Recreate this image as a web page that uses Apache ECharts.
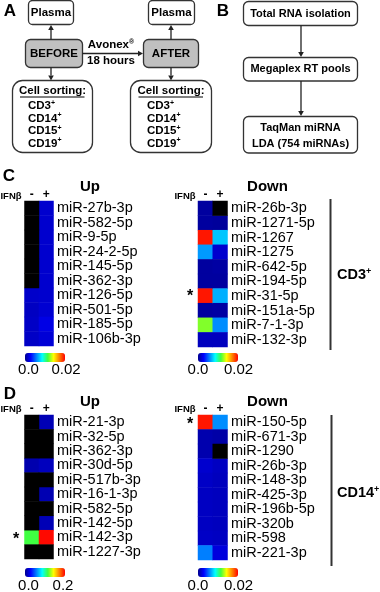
<!DOCTYPE html>
<html><head><meta charset="utf-8">
<script src="https://cdn.jsdelivr.net/npm/echarts@6/dist/echarts.min.js"></script>
<style>html,body{margin:0;padding:0;background:#fff}#c{width:380px;height:592px}</style>
</head><body><div id="c"></div>
<script>
// ---------------- data ----------------
const ifnCols = ['-', '+'];

const cUpGenes = ['miR-27b-3p','miR-582-5p','miR-9-5p','miR-24-2-5p','miR-145-5p','miR-362-3p','miR-126-5p','miR-501-5p','miR-185-5p','miR-106b-3p'];
const cUpMinus = [null,null,null,null,null,null,0.0015,0.0013,0.0014,0.0014];
const cUpPlus  = [0.0016,0.0016,0.0016,0.0016,0.0016,0.0016,0.0016,0.0017,0.0022,0.0018];

const cDownGenes = ['miR-26b-3p','miR-1271-5p','miR-1267','miR-1275','miR-642-5p','miR-194-5p','miR-31-5p','miR-151a-5p','miR-7-1-3p','miR-132-3p'];
const cDownMinus = [0.0004,0.0004,0.0195,0.0063,0.0004,0.0004,0.0195,0.0004,0.0124,0.0012];
const cDownPlus  = [null,0.0003,0.0073,0.0016,0.0005,0.0004,0.0068,0.0005,0.0060,0.0012];

const dUpGenes = ['miR-21-3p','miR-32-5p','miR-362-3p','miR-30d-5p','miR-517b-3p','miR-16-1-3p','miR-582-5p','miR-142-5p','miR-142-3p','miR-1227-3p'];
const dUpMinus = [null,null,null,0.008,null,null,null,null,0.114,null];
const dUpPlus  = [0.010,null,null,0.012,null,0.009,null,0.010,0.198,null];

const dDownGenes = ['miR-150-5p','miR-671-3p','miR-1290','miR-26b-3p','miR-148-3p','miR-425-3p','miR-196b-5p','miR-320b','miR-598','miR-221-3p'];
const dDownMinus = [0.0195,0.0008,0.0008,0.0016,0.0014,0.0013,0.0013,0.0013,0.0014,0.0057];
const dDownPlus  = [0.0060,0.0006,null,0.0013,0.0012,0.0012,0.0012,0.0012,0.0013,0.0020];

const scaleSmall = [0, 0.02];
const scaleLarge = [0, 0.2];
const cbTicksSmall = ['0.0', '0.02'];
const cbTicksLarge = ['0.0', '0.2'];

// ---------------- layout ----------------
const FF = "'Liberation Sans', Arial, Helvetica, sans-serif";
const jet = ['#00008f','#0000ff','#0080ff','#00ffff','#40ff40','#ffff00','#ff8000','#ff0000'];

const panels = [
  {genes: cUpGenes, minus: cUpMinus, plus: cUpPlus, scale: scaleSmall, ticks: cbTicksSmall,
   grid: {left: 24.5, top: 201, width: 29, height: 145}, cb: {left: 25, top: 353, tx: [28.5, 66], ty: 370}},
  {genes: cDownGenes, minus: cDownMinus, plus: cDownPlus, scale: scaleSmall, ticks: cbTicksSmall,
   grid: {left: 198, top: 201, width: 29.5, height: 146}, cb: {left: 198, top: 353, tx: [198, 238.5], ty: 370}},
  {genes: dUpGenes, minus: dUpMinus, plus: dUpPlus, scale: scaleLarge, ticks: cbTicksLarge,
   grid: {left: 24.5, top: 415, width: 29, height: 144}, cb: {left: 25, top: 568, tx: [28.5, 63], ty: 586}},
  {genes: dDownGenes, minus: dDownMinus, plus: dDownPlus, scale: scaleSmall, ticks: cbTicksSmall,
   grid: {left: 198, top: 415, width: 29.5, height: 145}, cb: {left: 198, top: 568, tx: [198, 238.5], ty: 586}}
];

const grids = [], xAxes = [], yAxes = [], series = [], visualMaps = [], graphics = [];

panels.forEach((p, k) => {
  grids.push(Object.assign({containLabel: false}, p.grid));
  xAxes.push({type: 'category', gridIndex: k, data: ifnCols, position: 'top',
    axisLine: {show: false}, axisTick: {show: false}, splitLine: {show: false},
    axisLabel: {interval: 0, fontSize: 12, fontWeight: 'bold', color: '#000', fontFamily: FF, margin: 0}});
  yAxes.push({type: 'category', gridIndex: k, data: p.genes, inverse: true, position: 'right',
    axisLine: {show: false}, axisTick: {show: false}, splitLine: {show: false},
    axisLabel: {interval: 0, fontSize: 14.5, color: '#000', fontFamily: FF, margin: 3.5}});
  const vals = [], blacks = [];
  [p.minus, p.plus].forEach((col, j) => {
    col.forEach((v, i) => {
      if (v === null) blacks.push([j, i, 0]); else vals.push([j, i, v]);
    });
  });
  const vi = series.length;
  series.push({type: 'heatmap', xAxisIndex: k, yAxisIndex: k, data: vals,
    itemStyle: {borderWidth: 0}, emphasis: {disabled: true}, silent: true, progressive: 0});
  series.push({type: 'heatmap', xAxisIndex: k, yAxisIndex: k, data: blacks,
    itemStyle: {color: '#000', borderWidth: 0}, emphasis: {disabled: true}, silent: true, progressive: 0});
  visualMaps.push({type: 'continuous', seriesIndex: vi, min: p.scale[0], max: p.scale[1],
    orient: 'horizontal', left: p.cb.left, top: p.cb.top, itemWidth: 9, itemHeight: 40,
    calculable: false, hoverLink: false, padding: 0, inRange: {color: jet}});
  p.ticks.forEach((t, m) => {
    graphics.push({type: 'text', x: p.cb.tx[m], y: p.cb.ty,
      style: {text: t, font: '15px ' + FF, fill: '#000', textAlign: 'center', textVerticalAlign: 'middle'}});
  });
});

// ---------- helpers for diagram ----------
function txt(x, y, s, size, extra) {
  return Object.assign({type: 'text', x: x, y: y,
    style: {text: s, font: 'bold ' + size + 'px ' + FF, fill: '#000', textAlign: 'center', textVerticalAlign: 'middle'}}, extra || {});
}
function box(x, y, w, h, r, fill) {
  return {type: 'rect', shape: {x: x, y: y, width: w, height: h, r: r},
    style: {fill: fill || '#fff', stroke: '#333', lineWidth: 1.3}};
}
function arrow(x1, y1, x2, y2) {
  const dx = x2 - x1, dy = y2 - y1, L = Math.sqrt(dx*dx + dy*dy), ux = dx / L, uy = dy / L;
  const hl = 5, hw = 2.8;
  const bx = x2 - ux * hl, by = y2 - uy * hl;
  return [
    {type: 'line', shape: {x1: x1, y1: y1, x2: bx, y2: by}, style: {stroke: '#222', lineWidth: 1.3}},
    {type: 'polygon', shape: {points: [[x2, y2], [bx - uy * hw, by + ux * hw], [bx + uy * hw, by - ux * hw]]},
      style: {fill: '#222'}}
  ];
}
function sup(x, y, main, s, size, align) {
  return {type: 'text', x: x, y: y,
    style: {text: '{a|' + main + '}{b|' + s + '}', textAlign: align || 'left', textVerticalAlign: 'middle',
      rich: {a: {font: 'bold ' + size + 'px ' + FF, fill: '#000', lineHeight: size + 2},
             b: {font: 'bold ' + Math.round(size * 0.62) + 'px ' + FF, fill: '#000', verticalAlign: 'top', lineHeight: size + 2, padding: [0, 0, 4, 0]}}}};
}

// Panel A
graphics.push(txt(10, 11, 'A', 17));
graphics.push(box(28.5, 0.5, 45, 24, 4)); graphics.push(txt(51, 13, 'Plasma', 11.5));
graphics.push(box(148.5, 0.5, 46, 24, 4)); graphics.push(txt(171.5, 13, 'Plasma', 11.5));
graphics.push(box(25.5, 39.5, 57, 28, 5, '#c0c0c0')); graphics.push(txt(54, 53.5, 'BEFORE', 11.5));
graphics.push(box(143.5, 39.5, 55, 28, 5, '#c0c0c0')); graphics.push(txt(171, 53.5, 'AFTER', 11.5));
graphics.push(...arrow(51, 39.5, 51, 25));
graphics.push(...arrow(171, 39.5, 171, 25));
graphics.push(...arrow(82.5, 53.5, 143, 53.5));
graphics.push(...arrow(51, 67.5, 51, 80.5));
graphics.push(...arrow(171, 67.5, 171, 80.5));
graphics.push(sup(111, 45, 'Avonex', '®', 11.5, 'center'));
graphics.push(txt(111, 60.5, '18 hours', 11.5));
graphics.push(box(12.5, 80.5, 80, 72, 10));
graphics.push(box(130.5, 80.5, 81, 72, 10));
graphics.push(txt(52.5, 90.5, 'Cell sorting:', 11.5));
graphics.push({type: 'line', shape: {x1: 20, y1: 97, x2: 84.5, y2: 97}, style: {stroke: '#000', lineWidth: 1}});
graphics.push(txt(171, 90.5, 'Cell sorting:', 11.5));
graphics.push({type: 'line', shape: {x1: 138.5, y1: 97, x2: 203, y2: 97}, style: {stroke: '#000', lineWidth: 1}});
const cdList = ['CD3', 'CD14', 'CD15', 'CD19'];
cdList.forEach((c, i) => {
  graphics.push(sup(28, 106 + i * 12.5, c, '+', 11.5));
  graphics.push(sup(147, 106 + i * 12.5, c, '+', 11.5));
});

// Panel B
graphics.push(txt(223, 11, 'B', 17));
graphics.push(box(243.5, 1.5, 114, 24, 5)); graphics.push(txt(300.5, 13.5, 'Total RNA isolation', 11));
graphics.push(...arrow(301, 25.5, 301, 57));
graphics.push(box(243.5, 57.5, 114, 23.5, 5)); graphics.push(txt(300.5, 69, 'Megaplex RT pools', 11));
graphics.push(...arrow(301, 81, 301, 116));
graphics.push(box(243.5, 116.5, 114, 36.5, 5));
graphics.push(txt(300.5, 128, 'TaqMan miRNA', 11));
graphics.push(txt(300.5, 143.5, 'LDA (754 miRNAs)', 11));

// Panels C and D labels
graphics.push(txt(9, 176, 'C', 17));
graphics.push(txt(10, 394, 'D', 17));
graphics.push(txt(90, 187, 'Up', 15));
graphics.push(txt(267.5, 187, 'Down', 15));
graphics.push(txt(90, 402, 'Up', 15));
graphics.push(txt(267.5, 402, 'Down', 15));
[[11, 196.5], [185, 196.5], [11, 409.5], [185, 409.5]].forEach(pt => {
  graphics.push(txt(pt[0], pt[1], 'IFNβ', 9.5));
});
graphics.push(txt(190, 297, '*', 16));
graphics.push(txt(16, 540, '*', 16));
graphics.push(txt(190, 425, '*', 16));
graphics.push({type: 'line', shape: {x1: 330.5, y1: 199, x2: 330.5, y2: 350}, style: {stroke: '#333', lineWidth: 2}});
graphics.push({type: 'line', shape: {x1: 331.5, y1: 415, x2: 331.5, y2: 566}, style: {stroke: '#333', lineWidth: 2}});
graphics.push(sup(337, 275, 'CD3', '+', 14.5));
graphics.push(sup(337, 493, 'CD14', '+', 14.5));

const chart = echarts.init(document.getElementById('c'), null, {renderer: 'canvas'});
chart.setOption({
  animation: false,
  backgroundColor: '#fff',
  grid: grids, xAxis: xAxes, yAxis: yAxes, series: series, visualMap: visualMaps,
  graphic: {elements: graphics}
});
</script></body></html>
